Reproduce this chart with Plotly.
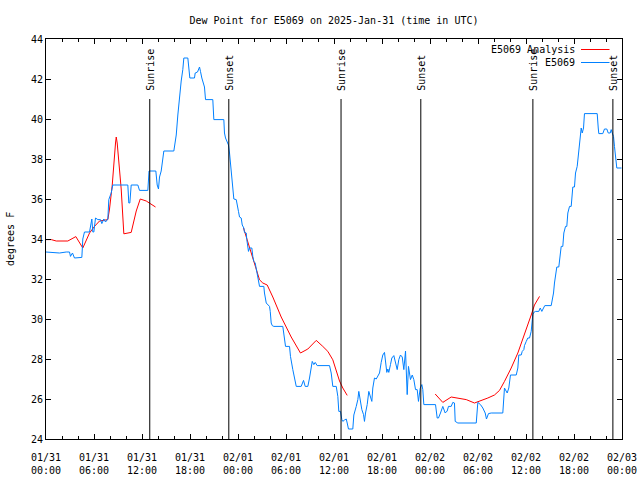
import pandas as pd
import plotly.graph_objects as go

BASE = pd.Timestamp("2025-01-31 00:00")

# ---- observed dew point (E5069): hours since 01/31 00:00 UTC, degrees F ----
obs_hours = [0.0, 1.69, 2.53, 2.94, 3.06, 3.31, 3.56, 3.98, 4.48, 4.6, 4.81, 5.44, 5.65, 5.73, 5.85,
             5.98, 6.19, 6.48, 6.81, 6.98, 7.23, 7.44, 7.73, 7.85, 8.15, 8.35, 10.23, 10.35, 10.48,
             10.65, 11.48, 11.69, 12.73, 12.88, 13.73, 13.9, 14.06, 14.19, 14.4, 14.6, 14.73, 15.98,
             16.15, 16.28, 16.48, 16.6, 16.78, 16.9, 17.1, 17.23, 17.73, 17.85, 17.98, 18.56, 18.65,
             18.94, 19.06, 19.19, 19.31, 19.48, 19.81, 19.94, 20.85, 20.98, 22.23, 22.31, 22.44,
             22.65, 22.81, 22.94, 23.06, 23.15, 23.23, 23.35, 23.48, 23.78, 23.9, 24.06, 24.19,
             24.4, 24.53, 24.73, 24.81, 25.03, 25.1, 25.23, 25.31, 25.44, 25.73, 25.85, 25.98,
             26.15, 26.28, 26.48, 26.56, 26.69, 27.23, 27.31, 27.53, 27.73, 27.94, 28.03, 28.15,
             28.28, 28.48, 29.6, 29.81, 29.94, 30.44, 30.56, 30.85, 31.06, 31.28, 31.9, 32.19,
             32.4, 32.73, 32.94, 33.15, 33.28, 33.48, 33.65, 33.9, 35.44, 35.65, 35.85, 36.28,
             36.48, 36.6, 36.81, 36.98, 37.1, 37.31, 37.53, 37.65, 37.81, 38.35, 38.48, 38.78,
             38.98, 39.1, 39.28, 39.48, 39.69, 39.81, 39.94, 40.15, 40.35, 40.56, 40.73, 40.85,
             41.06, 41.28, 41.48, 41.69, 41.9, 42.1, 42.31, 42.44, 42.6, 42.73, 42.85, 43.06,
             43.23, 43.48, 43.69, 43.9, 44.1, 44.31, 44.53, 44.73, 44.94, 45.15, 45.31, 45.56,
             45.78, 45.98, 46.19, 46.4, 46.56, 46.78, 46.98, 47.1, 47.23, 48.69, 48.9, 49.06,
             49.31, 49.6, 49.9, 50.15, 50.31, 50.65, 50.85, 51.06, 51.15, 51.48, 53.78, 53.98,
             54.31, 54.6, 54.9, 55.06, 55.31, 55.65, 57.1, 57.31, 57.65, 57.85, 58.06, 58.78,
             58.98, 59.1, 59.4, 59.53, 59.73, 59.81, 60.03, 60.23, 60.44, 60.65, 60.85, 60.98,
             61.19, 61.6, 61.78, 61.98, 62.19, 62.35, 63.15, 63.28, 63.44, 63.56, 63.69, 63.85,
             64.1, 64.28, 64.4, 64.6, 64.73, 64.94, 65.1, 65.23, 65.44, 65.65, 65.73, 65.85,
             66.06, 66.19, 66.4, 66.56, 66.69, 66.81, 66.9, 67.03, 67.19, 67.31, 68.9, 69.03,
             69.1, 69.6, 69.81, 70.1, 70.28, 70.53, 70.65, 70.78, 70.94, 71.06, 71.19, 71.35,
             71.94]
obs_values = [33.35, 33.3, 33.35, 33.35, 33.13, 33.3, 33.05, 33.08, 33.08, 34.0, 34.35, 34.35, 34.9,
              35.0, 34.35, 34.35, 35.05, 34.97, 34.97, 34.77, 35.0, 34.85, 35.0, 35.97, 36.3, 36.7,
              36.7, 35.8, 35.8, 36.7, 36.7, 36.43, 36.43, 37.4, 37.4, 36.7, 36.5, 37.1, 37.4, 38.2,
              38.4, 38.4, 38.9, 39.2, 40.2, 40.8, 41.4, 41.9, 42.47, 43.05, 43.05, 42.6, 42.05,
              42.05, 42.3, 42.35, 42.47, 42.6, 42.38, 42.05, 41.6, 40.97, 40.97, 39.97, 39.97,
              39.3, 39.05, 38.88, 38.7, 38.3, 37.7, 37.3, 36.8, 36.3, 36.0, 35.97, 35.6, 35.38,
              35.1, 35.05, 34.7, 34.55, 34.33, 34.3, 33.97, 33.55, 33.38, 33.55, 33.55, 33.13,
              32.88, 32.8, 32.47, 32.13, 31.88, 31.63, 31.63, 31.3, 30.8, 30.72, 30.63, 30.38,
              29.8, 29.67, 29.63, 29.63, 28.97, 28.63, 28.63, 28.13, 27.47, 26.97, 26.63, 26.63,
              26.93, 26.63, 26.63, 27.05, 27.47, 27.88, 27.72, 27.83, 27.67, 27.67, 27.3, 26.63,
              26.63, 26.13, 25.38, 25.38, 24.97, 24.88, 24.95, 25.0, 24.8, 24.5, 24.5, 25.2,
              25.63, 25.97, 26.38, 25.88, 25.47, 25.22, 24.88, 25.3, 25.72, 26.38, 26.13, 25.88,
              26.55, 27.05, 27.0, 27.13, 27.3, 27.83, 28.2, 28.33, 27.8, 27.33, 27.5, 27.33,
              27.72, 28.05, 28.17, 27.88, 27.47, 27.97, 28.2, 28.1, 27.47, 28.4, 26.22, 27.63,
              26.97, 27.2, 26.97, 26.47, 26.47, 25.88, 26.55, 26.72, 26.47, 25.72, 25.72, 25.05,
              25.05, 25.3, 25.63, 25.3, 25.4, 25.63, 25.63, 25.83, 25.8, 24.88, 24.8, 24.8, 25.83,
              25.72, 25.55, 25.3, 25.0, 25.27, 25.3, 25.3, 26.55, 26.3, 26.55, 27.2, 27.2, 27.55,
              28.2, 28.2, 28.38, 28.47, 28.67, 28.88, 29.05, 29.05, 29.38, 30.22, 30.33, 30.38,
              30.38, 30.55, 30.38, 30.55, 30.67, 30.67, 30.97, 31.3, 31.8, 32.3, 32.6, 32.6, 33.3,
              33.63, 33.63, 34.3, 34.63, 34.63, 35.3, 35.63, 35.63, 35.97, 36.6, 36.6, 37.3, 37.63,
              38.3, 38.83, 39.3, 39.55, 39.3, 39.55, 40.27, 40.27, 39.55, 39.27, 39.27, 39.5, 39.5,
              39.3, 39.3, 39.47, 39.3, 39.13, 38.63, 38.13, 37.55, 37.55]

# ---- analysis (E5069 Analysis): three separate runs, None = gap ----
ana_hours = [0.0, 0.65, 1.28, 2.73, 3.73, 4.6, 5.44, 6.06, 6.69, 7.73, 7.94, 8.28, 8.69, 8.78, 8.9,
             9.19, 9.4, 9.73, 10.65, 11.28, 11.78, 12.53, 13.69, None,
             24.69, 25.03, 25.44, 26.06, 26.48, 26.69, 27.1, 27.65, 28.35, 29.4, 30.65, 31.81,
             32.73, 33.23, 33.78, 34.6, 35.23, 35.85, 36.28, 36.69, 37.1, 37.65, None,
             48.65, 49.6, 50.65, 51.48, 52.53, 53.56, 54.19, 55.23, 56.06, 56.69, 57.31, 58.15,
             58.98, 59.81, 60.65, 61.06, 61.69]
ana_values = [33.97, 33.97, 33.9, 33.9, 34.12, 33.55, 34.3, 34.63, 34.9, 34.97, 35.5, 36.7, 38.8,
              39.1, 38.8, 37.6, 36.5, 34.26, 34.33, 35.4, 36.0, 35.9, 35.6, None,
              34.55, 34.13, 33.55, 32.8, 32.3, 31.96, 31.8, 31.7, 31.1, 30.1, 29.1, 28.3, 28.5,
              28.7, 28.93, 28.63, 28.38, 27.96, 27.47, 26.9, 26.55, 26.18, None,
              26.25, 25.83, 26.1, 26.05, 25.97, 25.8, 25.88, 26.05, 26.2, 26.43, 26.88, 27.55,
              28.3, 29.2, 30.2, 30.7, 31.13]

# ---- sun events (hours since 01/31 00:00 UTC) ----
sun_labels = ["Sunrise", "Sunset", "Sunrise", "Sunset", "Sunrise", "Sunset"]
sun_hours = [12.97, 22.85, 36.88, 46.85, 60.86, 70.86]

series_names = ["E5069 Analysis", "E5069"]
series_colors = ["#ff0000", "#0080ff"]

title_text = "Dew Point for E5069 on 2025-Jan-31 (time in UTC)"
y_title = "degrees F"


def to_time(hours):
    return [None if h is None else BASE + pd.Timedelta(hours=h) for h in hours]


FONT = "DejaVu Sans Mono"
W, H = 640, 480
L, R, T, B = 46, 18, 39, 41
PW, PH = W - L - R, H - T - B

fig = go.Figure()
fig.add_trace(go.Scatter(x=to_time(ana_hours), y=ana_values, mode="lines",
                         name=series_names[0], connectgaps=False,
                         line=dict(color=series_colors[0], width=1)))
fig.add_trace(go.Scatter(x=to_time(obs_hours), y=obs_values, mode="lines",
                         name=series_names[1],
                         line=dict(color=series_colors[1], width=1)))

# sunrise / sunset markers
for lab, h in zip(sun_labels, sun_hours):
    t = BASE + pd.Timedelta(hours=h)
    fig.add_shape(type="line", xref="x", yref="y", x0=t, x1=t, y0=24, y1=41.0,
                  line=dict(color="black", width=1))
    fig.add_annotation(x=t, y=41.35, xref="x", yref="y", text=lab, textangle=-90,
                       showarrow=False, xanchor="center", yanchor="bottom", borderpad=0,
                       font=dict(family=FONT, size=10, color="black"))


# hand-drawn key (gnuplot style: text right, sample line after)
def px_x(px):
    return (px - L) / PW


def px_y(py):
    return 1 - (py - T) / PH


key_rows = [49.5, 62.5]
for name, col, yy in zip(series_names, series_colors, key_rows):
    fig.add_annotation(x=px_x(576), y=px_y(yy), xref="paper", yref="paper", text=name,
                       showarrow=False, xanchor="right", yanchor="middle", borderpad=0,
                       font=dict(family=FONT, size=10, color="black"))
    fig.add_shape(type="line", xref="paper", yref="paper", x0=px_x(581), x1=px_x(609.5),
                  y0=px_y(yy), y1=px_y(yy), line=dict(color=col, width=1))

fig.add_annotation(x=px_x(10), y=0.5, xref="paper", yref="paper", text=y_title, textangle=-90,
                   showarrow=False, xanchor="center", yanchor="middle",
                   font=dict(family=FONT, size=10, color="black"))

fig.update_layout(
    width=W, height=H,
    margin=dict(l=L, r=R, t=T, b=B, pad=0, autoexpand=False),
    paper_bgcolor="white", plot_bgcolor="white",
    showlegend=False,
    font=dict(family=FONT, size=10, color="black"),
    title=dict(text=title_text, x=0.5, xref="paper", y=1 - 20 / H, yref="container",
               xanchor="center", yanchor="middle", font=dict(family=FONT, size=10, color="black")),
    xaxis=dict(type="date", range=[BASE, BASE + pd.Timedelta(hours=72)], automargin=False,
               tick0=BASE, dtick=6 * 3600 * 1000, tickformat="%m/%d<br>%H:%M",
               ticks="inside", ticklen=5, tickcolor="black", showgrid=False, zeroline=False,
               ticklabelstandoff=9,
               showline=True, linecolor="black", linewidth=1, mirror="allticks",
               minor=dict(dtick=2 * 3600 * 1000, ticks="inside", ticklen=3, tickcolor="black",
                          showgrid=False),
               tickfont=dict(family=FONT, size=10, color="black")),
    yaxis=dict(range=[24, 44], dtick=2, tick0=24, ticks="inside", ticklen=5, tickcolor="black",
               automargin=False,
               showgrid=False, zeroline=False, showline=True, linecolor="black", linewidth=1,
               mirror="allticks", tickfont=dict(family=FONT, size=10, color="black")),
)

fig.write_html("out.html", config={"displayModeBar": False},
               post_script="document.body.style.margin='0px';")
